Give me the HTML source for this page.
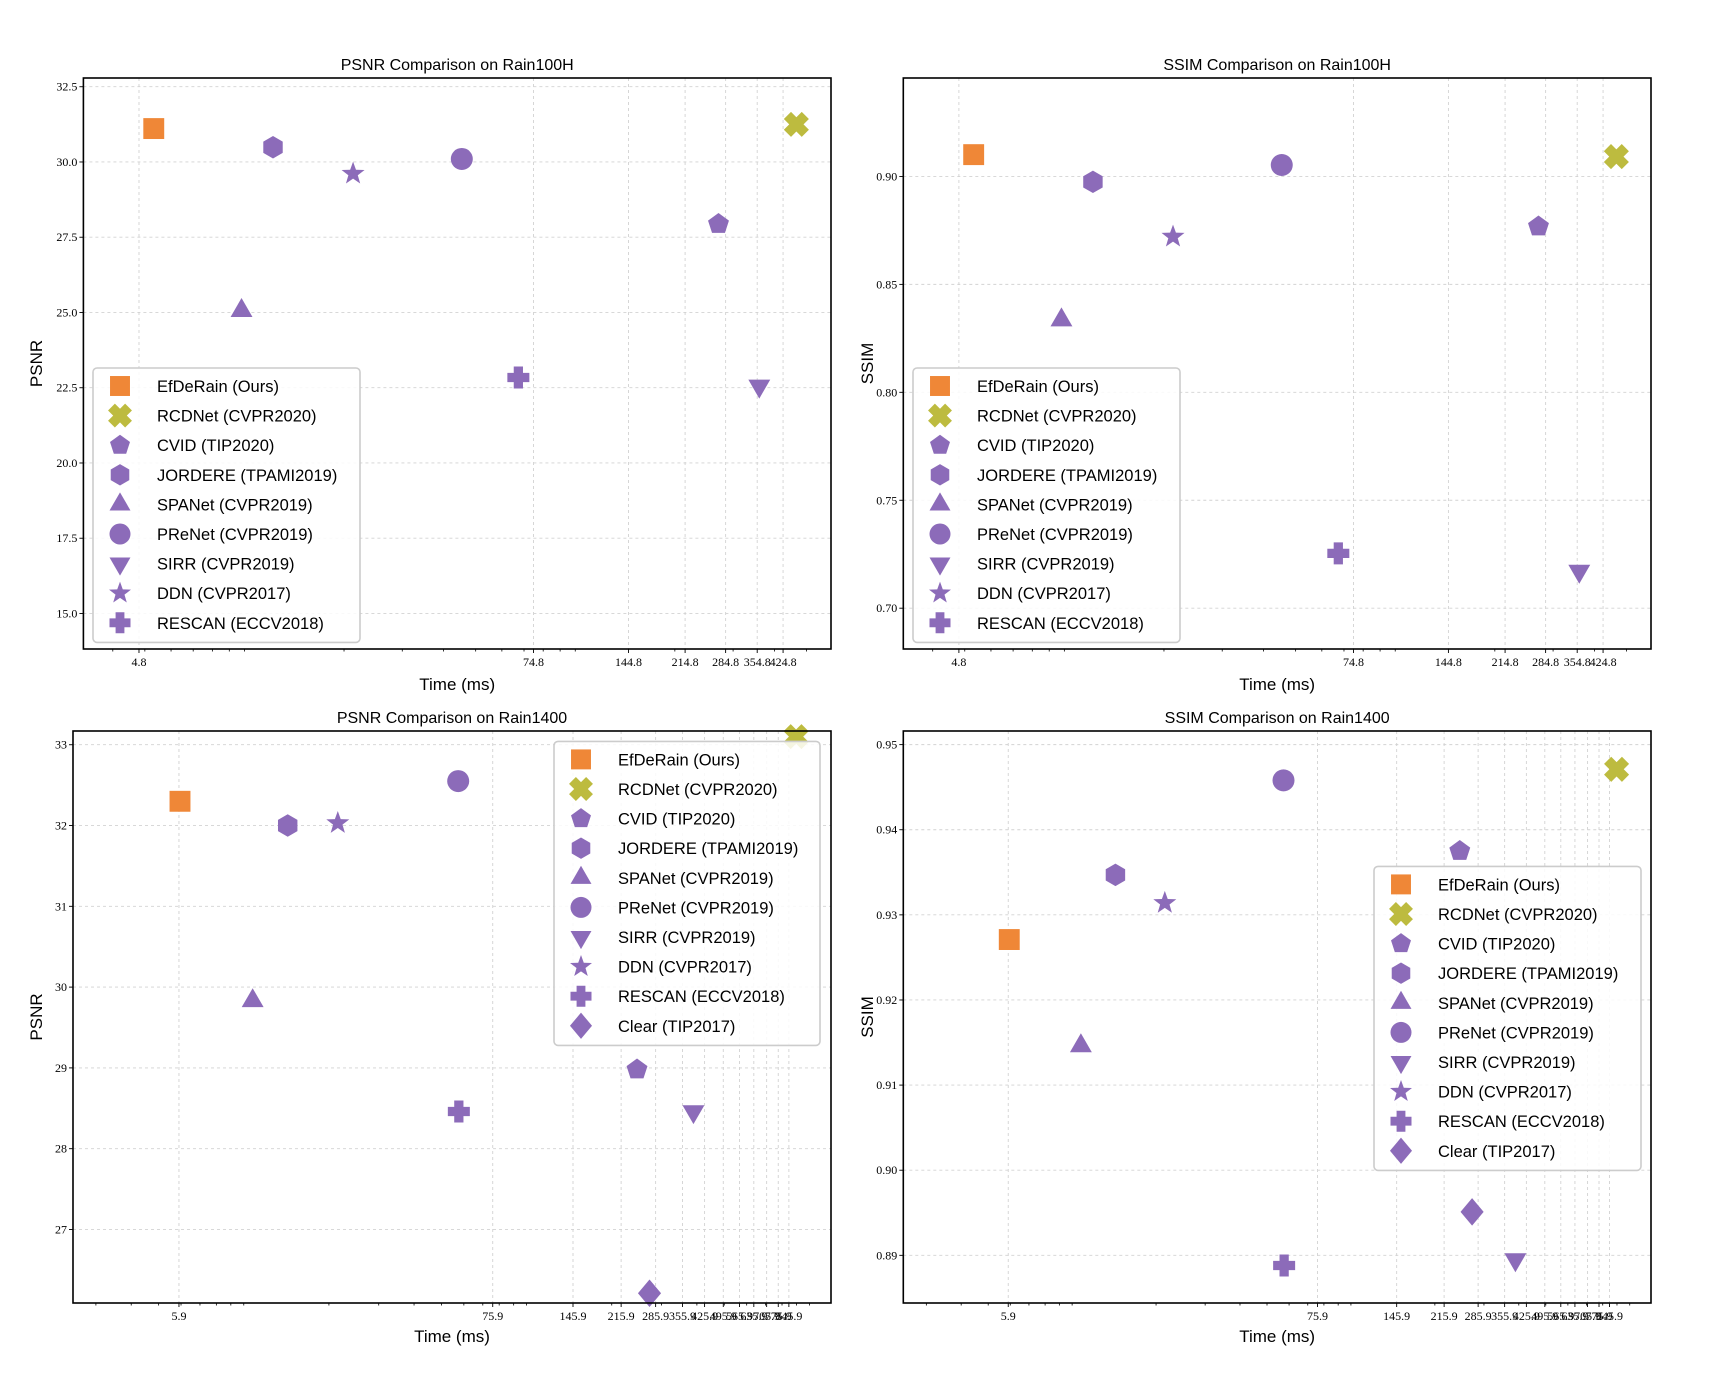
<!DOCTYPE html>
<html><head><meta charset="utf-8">
<style>
html,body{margin:0;padding:0;background:#fff;}
svg{display:block;}
.ttl{font-family:"Liberation Sans",sans-serif;font-size:16px;fill:#000;}
.lab{font-family:"Liberation Sans",sans-serif;font-size:17px;fill:#000;}
.tk{font-family:"Liberation Serif",serif;font-size:12px;fill:#000;}
.lg{font-family:"Liberation Sans",sans-serif;font-size:16.5px;fill:#000;}
</style></head>
<body>
<svg id="fig" width="1720" height="1376" viewBox="0 0 1720 1376" xmlns="http://www.w3.org/2000/svg"></svg>
<script>
const methods = ["EfDeRain (Ours)","RCDNet (CVPR2020)","CVID (TIP2020)","JORDERE (TPAMI2019)","SPANet (CVPR2019)","PReNet (CVPR2019)","SIRR (CVPR2019)","DDN (CVPR2017)","RESCAN (ECCV2018)","Clear (TIP2017)"];
const shapes = ["square","x","pentagon","hexagon","tri-up","circle","tri-down","star","plus","diamond"];
const colors = ["#ef8737","#bdbb3f","#8c6bb9","#8c6bb9","#8c6bb9","#8c6bb9","#8c6bb9","#8c6bb9","#8c6bb9","#8c6bb9"];
const times100 = [5.32,466,271,12.2,9.8,45.4,360,21.3,67.3];
const psnr100 = [31.11,31.25,27.94,30.49,25.06,30.1,22.56,29.61,22.84];
const ssim100 = [0.9101,0.9092,0.8768,0.8975,0.8335,0.9053,0.7172,0.8721,0.7254];
const times1400 = [5.95,897,245.7,14.3,10.75,57.3,389,21.5,57.6,272];
const psnr1400 = [32.30,33.10,28.98,32.0,29.83,32.55,28.46,32.03,28.46,26.21];
const ssim1400 = [0.9271,0.9471,0.9375,0.9347,0.9146,0.9458,0.8895,0.9314,0.8888,0.8951];
const xticks100 = [4.8,74.8,144.8,214.8,284.8,354.8,424.8];
const xticks1400 = [5.9,75.9,145.9,215.9,285.9,355.9,425.9,495.9,565.9,635.9,705.9,775.9,845.9];
const yticksPsnr100 = [15.0,17.5,20.0,22.5,25.0,27.5,30.0,32.5];
const yticksSsim100 = [0.70,0.75,0.80,0.85,0.90];
const yticksPsnr1400 = [27,28,29,30,31,32,33];
const yticksSsim1400 = [0.89,0.90,0.91,0.92,0.93,0.94,0.95];

const NS="http://www.w3.org/2000/svg";
const fig=document.getElementById('fig');
function mk(tag,attrs,parent){const e=document.createElementNS(NS,tag);for(const k in attrs)e.setAttribute(k,attrs[k]);(parent||fig).appendChild(e);return e;}

function markerPath(shape,cx,cy,r){
  const poly=(n,rot,rr)=>{let p=[];for(let i=0;i<n;i++){const a=rot+i*2*Math.PI/n;p.push((cx+rr*Math.cos(a)).toFixed(2)+","+(cy+rr*Math.sin(a)).toFixed(2));}return p;};
  switch(shape){
    case "square": return {tag:"rect",a:{x:cx-r*0.95,y:cy-r*0.95,width:r*1.9,height:r*1.9}};
    case "circle": return {tag:"circle",a:{cx:cx,cy:cy,r:r}};
    case "pentagon": return {tag:"polygon",a:{points:poly(5,-Math.PI/2,r).join(" ")}};
    case "hexagon": return {tag:"polygon",a:{points:poly(6,-Math.PI/2,r*1.02).join(" ")}};
    case "tri-up": return {tag:"polygon",a:{points:poly(3,-Math.PI/2,r*1.15).join(" ")}};
    case "tri-down": return {tag:"polygon",a:{points:poly(3,Math.PI/2,r*1.15).join(" ")}};
    case "diamond": return {tag:"polygon",a:{points:[cx+","+(cy-r*1.25),(cx+r*1.05)+","+cy,cx+","+(cy+r*1.25),(cx-r*1.05)+","+cy].join(" ")}};
    case "star": {let p=[];for(let i=0;i<10;i++){const a=-Math.PI/2+i*Math.PI/5;const rr=i%2?r*0.45:r*1.1;p.push((cx+rr*Math.cos(a)).toFixed(2)+","+(cy+rr*Math.sin(a)).toFixed(2));}return {tag:"polygon",a:{points:p.join(" ")}};}
    case "plus": {const w=r*0.42,L=r;return {tag:"polygon",a:{points:[[-w,-L],[w,-L],[w,-w],[L,-w],[L,w],[w,w],[w,L],[-w,L],[-w,w],[-L,w],[-L,-w],[-w,-w]].map(q=>(cx+q[0])+","+(cy+q[1])).join(" ")}};}
    case "x": {const w=r*0.4,L=r;const pts=[[-w,-L],[w,-L],[w,-w],[L,-w],[L,w],[w,w],[w,L],[-w,L],[-w,w],[-L,w],[-L,-w],[-w,-w]];const c=Math.SQRT1_2;return {tag:"polygon",a:{points:pts.map(q=>(cx+(q[0]-q[1])*c*1.15)+","+(cy+(q[0]+q[1])*c*1.15)).join(" ")}};}
  }
}

function drawPanel(P){
  const g=mk('g',{});
  
  
  const lx0=Math.log10(P.xmin),lx1=Math.log10(P.xmax);
  const X=v=>P.x0+(Math.log10(v)-lx0)/(lx1-lx0)*(P.x1-P.x0);
  const Y=v=>P.y1-(v-P.ymin)/(P.ymax-P.ymin)*(P.y1-P.y0);
  P.xticks.forEach(t=>{const x=X(t);const l=mk('line',{x1:x,x2:x,y1:P.y0,y2:P.y1,stroke:"#d2d2d2","stroke-width":0.9,"stroke-dasharray":"3,3"},g);});
  P.yticks.forEach(t=>{const y=Y(t);const l=mk('line',{x1:P.x0,x2:P.x1,y1:y,y2:y,stroke:"#d2d2d2","stroke-width":0.9,"stroke-dasharray":"3,3"},g);});
  for(let e=-1;e<4;e++){for(let m=1;m<10;m++){const v=m*Math.pow(10,e);if(v<P.xmin||v>P.xmax)continue;const x=X(v);mk('line',{x1:x,x2:x,y1:P.y1,y2:P.y1+2.5,stroke:"#000","stroke-width":0.8},g);}}
  P.xticks.forEach(t=>{const x=X(t);mk('line',{x1:x,x2:x,y1:P.y1,y2:P.y1+4,stroke:"#000","stroke-width":0.9},g);
    const tx=mk('text',{x:x,y:P.y1+17,"text-anchor":"middle",class:"tk"},g);tx.textContent=t.toFixed(1);
    });
  P.yticks.forEach(t=>{const y=Y(t);mk('line',{x1:P.x0-4,x2:P.x0,y1:y,y2:y,stroke:"#000","stroke-width":0.9},g);
    const tx=mk('text',{x:P.x0-6,y:y+4,"text-anchor":"end",class:"tk"},g);tx.textContent=t.toFixed(P.ydec);
    });
  P.ys.forEach((v,i)=>{const m=markerPath(shapes[i],X(P.xs[i]),Y(v),11);m.a.fill=colors[i];const e=mk(m.tag,m.a,g);
    
    });
  const fr=mk('rect',{x:P.x0,y:P.y0,width:P.x1-P.x0,height:P.y1-P.y0,fill:"none",stroke:"#000","stroke-width":1.6},g);
  
  const ti=mk('text',{x:(P.x0+P.x1)/2,y:P.y0-8,"text-anchor":"middle",class:"ttl"},g);ti.textContent=P.title;
  
  const xl=mk('text',{x:(P.x0+P.x1)/2,y:P.xlabY,"text-anchor":"middle",class:"lab"},g);xl.textContent="Time (ms)";
  
  const yl=mk('text',{x:0,y:0,"text-anchor":"middle",class:"lab",transform:"translate("+P.ylabX+","+((P.y0+P.y1)/2)+") rotate(-90)"},g);yl.textContent=P.ylabel;
  
  const n=P.ys.length;
  const L=P.leg;const h=n*29.6+8;
  const lg=mk('g',{},g);
  mk('rect',{x:L.x,y:L.y,width:L.w,height:h,rx:4,fill:"rgba(255,255,255,0.85)",stroke:"#cccccc","stroke-width":1.6},lg);
  for(let i=0;i<n;i++){const cy=L.y+18+i*29.6;const m=markerPath(shapes[i],L.x+27,cy,10.5);m.a.fill=colors[i];mk(m.tag,m.a,lg);
    const t=mk('text',{x:L.x+64,y:cy+6,class:"lg"},lg);t.textContent=methods[i];
    }
}

drawPanel({name:"psnr-rain100h-chart",title:"PSNR Comparison on Rain100H",x0:83.4,x1:831,y0:78,y1:649,xmin:3.26,xmax:593,ymin:13.82,ymax:32.79,
  xticks:xticks100,yticks:yticksPsnr100,ydec:1,xs:times100,ys:psnr100,ylabel:"PSNR",ylabX:42,xlabY:690,leg:{x:93,y:368,w:267}});
drawPanel({name:"ssim-rain100h-chart",title:"SSIM Comparison on Rain100H",x0:903.3,x1:1651,y0:78,y1:649,xmin:3.26,xmax:593,ymin:0.6811,ymax:0.9456,
  xticks:xticks100,yticks:yticksSsim100,ydec:2,xs:times100,ys:ssim100,ylabel:"SSIM",ylabX:873,xlabY:690,leg:{x:913,y:368,w:267}});
drawPanel({name:"psnr-rain1400-chart",title:"PSNR Comparison on Rain1400",x0:73,x1:831,y0:731,y1:1303,xmin:2.49,xmax:1192,ymin:26.09,ymax:33.17,
  xticks:xticks1400,yticks:yticksPsnr1400,ydec:0,xs:times1400,ys:psnr1400,ylabel:"PSNR",ylabX:42,xlabY:1342,leg:{x:554,y:741.4,w:266}});
drawPanel({name:"ssim-rain1400-chart",title:"SSIM Comparison on Rain1400",x0:903.3,x1:1651,y0:731,y1:1303,xmin:2.48,xmax:1192,ymin:0.8844,ymax:0.9516,
  xticks:xticks1400,yticks:yticksSsim1400,ydec:2,xs:times1400,ys:ssim1400,ylabel:"SSIM",ylabX:873,xlabY:1342,leg:{x:1374,y:866.4,w:267}});
</script>
</body></html>
